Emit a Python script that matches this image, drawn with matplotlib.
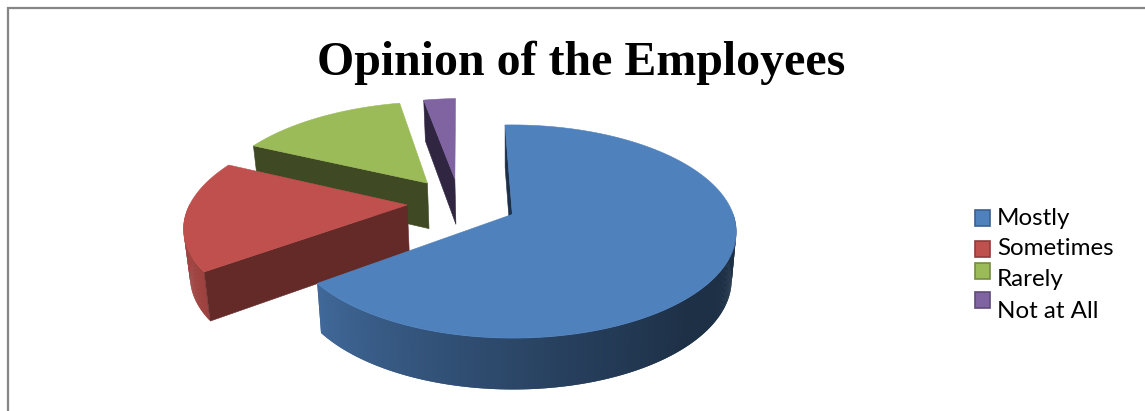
import numpy as np
import matplotlib
matplotlib.use("Agg")
import matplotlib.pyplot as plt
from matplotlib.patches import Polygon, Rectangle

title = "Opinion of the Employees"
categories = ["Mostly", "Sometimes", "Rarely", "Not at All"]
shares = [65.3, 17.2, 14.7, 2.8]
colors = ["#4F81BD", "#C0504D", "#9BBB59", "#8064A2"]
face_colors = ["#1D3049", "#632A28", "#3F4A24", "#302641"]
explode = [0.265, 0.235, 0.25, 0.24]

# Projection of the pie plane onto the canvas (pixels)
CX, CY, SX, SY, PERSP = 508.0, 216.0, 226.0, 106.5, 0.165
CENTER = np.array([-0.22, 0.13])
RADIUS = 0.98
START = -2.0


def project(u, v):
    w = 1 + PERSP * v
    return CX + SX * u / w, CY - SY * v / w


def project_low(u, v):
    x, y = project(u, v)
    return CX + (x - CX) * 0.98, y + 47 - 4.5 * np.asarray(v)


def shade(color, f):
    return tuple(np.array(matplotlib.colors.to_rgb(color)) * f)


def wall_factor(theta):
    t = np.mod(theta, 360)
    return np.interp(t, [0, 135, 170, 235, 300, 360], [0.37, 0.37, 0.50, 0.82, 0.88, 0.6])


fig = plt.figure(figsize=(11.45, 4.11), dpi=100)
ax = fig.add_axes([0, 0, 1, 1])
ax.set_xlim(0, 1145)
ax.set_ylim(411, 0)
ax.axis("off")

# Chart frame: only the top and left edges fall on the canvas
ax.plot([8, 8, 1145], [411, 8.5, 8.5], color="#868686", lw=1.6, solid_joinstyle="miter")

# Slice angles run clockwise from twelve o'clock
fracs = np.array(shares) / sum(shares) * 360
starts = START + np.concatenate([[0], np.cumsum(fracs)[:-1]])

# Back slices first so the nearer ones overlap them
for i in [3, 2, 1, 0]:
    a0, a1 = starts[i], starts[i] + fracs[i]
    mid = np.radians((a0 + a1) / 2)
    apex = CENTER + explode[i] * np.array([np.sin(mid), np.cos(mid)])
    th = np.radians(np.linspace(a0, a1, int(fracs[i] * 2) + 2))
    u = apex[0] + RADIUS * np.sin(th)
    v = apex[1] + RADIUS * np.cos(th)

    tx, ty = project(u, v)
    bx, by = project_low(u, v)
    ax_top, ay_top = project(apex[0], apex[1])
    ax_low, ay_low = project_low(apex[0], apex[1])
    base_z = 2 + (3 - i) * 3

    # Rim, shaded by the direction it faces; each strip overlaps the next
    # and the far side of the slice is left out
    deg = np.degrees(th)
    for j in range(len(th) - 1):
        if np.cos(th[j]) > 0 and np.cos(th[j + 1]) > 0:
            continue
        k = min(j + 2, len(th) - 1)
        c = shade(colors[i], wall_factor((deg[j] + deg[j + 1]) / 2))
        ax.add_patch(Polygon([(tx[j], ty[j]), (tx[k], ty[k]), (bx[k], by[k]), (bx[j], by[j])],
                             closed=True, fc=c, ec="none", zorder=base_z + 0.001 * j))

    # Radial faces, only those turned towards the viewer
    for k, normal in ((0, a0 - 90), (-1, a1 + 90)):
        if np.cos(np.radians(normal)) < 0:
            ax.add_patch(Polygon([(ax_top, ay_top), (tx[k], ty[k]), (bx[k], by[k]), (ax_low, ay_low)],
                                 closed=True, fc=face_colors[i], ec=face_colors[i], lw=0.4, zorder=base_z + 1))

    # Top surface
    pts = np.column_stack([np.r_[ax_top, tx], np.r_[ay_top, ty]])
    ax.add_patch(Polygon(pts, closed=True, fc=colors[i], ec=colors[i], lw=0.4, zorder=base_z + 2))

ax.text(581, 75, title, family="Liberation Serif", weight="bold", fontsize=34.5,
        ha="center", va="baseline", color="black")

# Legend
key_tops = [210, 241, 263, 292]
baselines = [225, 255, 286, 318]
for name, col, top, base in zip(categories, colors, key_tops, baselines):
    edge = shade(col, 0.75)
    ax.add_patch(Rectangle((975, top), 15, 15.5, fc=col, ec=edge, lw=1.2, zorder=30))
    ax.text(997, base, name, family="Lato", fontsize=17.4, ha="left", va="baseline", color="black")

fig.savefig("out.png", dpi=100, facecolor="white")
